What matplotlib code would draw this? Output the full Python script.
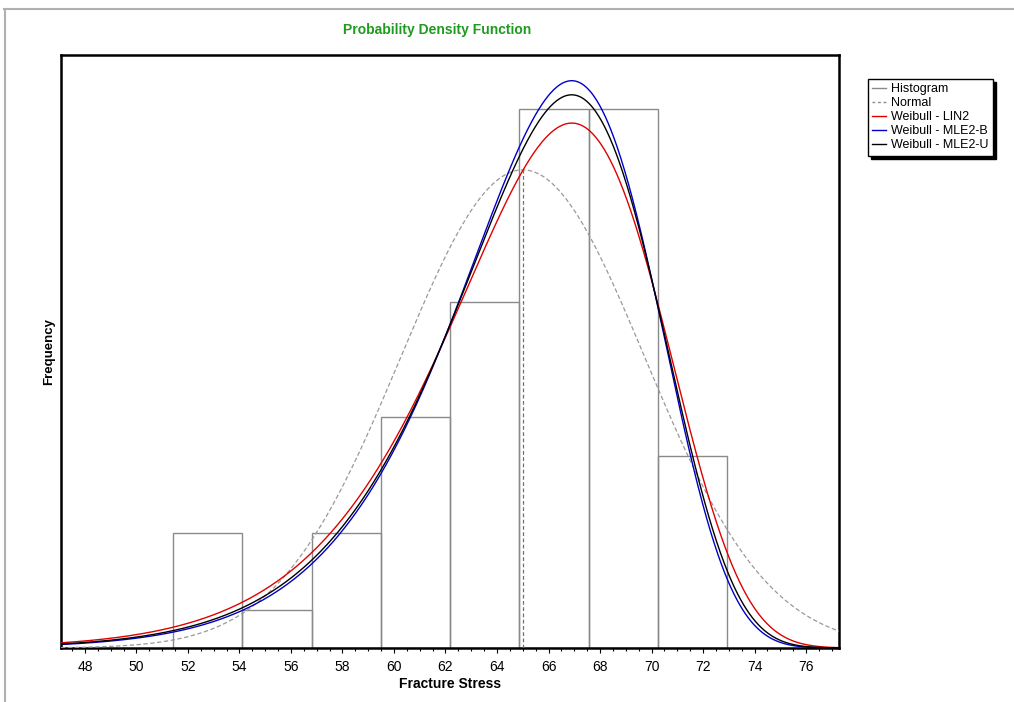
import numpy as np
import matplotlib
matplotlib.use("Agg")
import matplotlib.pyplot as plt
from matplotlib.lines import Line2D

# ---- data ----
bin_edges = [51.42, 54.11, 56.80, 59.49, 62.18, 64.87, 67.56, 70.25, 72.94]
counts = [3, 1, 3, 6, 9, 14, 14, 5]

normal_mean = 65.0
normal_sd = 4.75

weibull_names = ["Weibull - LIN2", "Weibull - MLE2-B", "Weibull - MLE2-U"]
weibull_shape = [16.8, 18.15, 17.7]
weibull_scale = [67.15, 67.11, 67.12]
weibull_colors = ["#e00000", "#0000c8", "#000000"]

x_min, x_max = 47.07, 77.28
x_ticks = [48, 50, 52, 54, 56, 58, 60, 62, 64, 66, 68, 70, 72, 74, 76]

# ---- figure ----
W, H = 1014, 702
fig = plt.figure(figsize=(W / 100, H / 100), dpi=100)
plt.rcParams['font.family'] = ['Liberation Sans', 'DejaVu Sans']

ax = fig.add_axes([61 / W, 1 - 648 / H, (839 - 61) / W, (648 - 55) / H])

n_total = sum(counts)
widths = np.diff(bin_edges)
bw = float(np.mean(widths))

ax.bar(bin_edges[:-1], counts, width=widths, align='edge', fill=False,
       edgecolor='#8a8a8a', linewidth=1.0, zorder=2)

xs = np.linspace(x_min, x_max, 800)
norm_y = n_total * bw * np.exp(-0.5 * ((xs - normal_mean) / normal_sd) ** 2) / (normal_sd * np.sqrt(2 * np.pi))
ax.plot(xs, norm_y, color='#999999', lw=0.9, linestyle=(0, (3.5, 2)), zorder=3)
norm_peak = n_total * bw / (normal_sd * np.sqrt(2 * np.pi))
ax.plot([normal_mean, normal_mean], [0, norm_peak], color='#707070', lw=0.9,
        linestyle=(0, (3, 2)), zorder=3)

for name, b, e, c in zip(weibull_names, weibull_shape, weibull_scale, weibull_colors):
    yy = n_total * bw * (b / e) * (xs / e) ** (b - 1) * np.exp(-(xs / e) ** b)
    ax.plot(xs, yy, color=c, lw=1.0, zorder=4)

ax.set_xlim(x_min, x_max)
ax.set_ylim(0, (648 - 55) / 38.48)
ax.set_xticks(x_ticks)
ax.set_xticks(np.arange(47.5, 77.3, 0.5), minor=True)
ax.set_yticks([])
ax.tick_params(axis='x', which='major', direction='out', length=3.6, width=0.8,
               labelsize=10, pad=5)
ax.tick_params(axis='x', which='minor', direction='out', length=2.0, width=0.8)
for s in ax.spines.values():
    s.set_linewidth(1.8)
    s.set_color('black')

ax.set_xlabel("Fracture Stress", fontsize=10, fontweight='bold', labelpad=2.5)
ax.set_ylabel("Frequency", fontsize=9.5, fontweight='bold', labelpad=4.5)

fig.text(437 / W, 1 - 30 / H, "Probability Density Function", color='#1e9a1e',
         fontsize=10, fontweight='bold', ha='center', va='center')

handles = [Line2D([], [], color='#8a8a8a', lw=1.0),
           Line2D([], [], color='#8a8a8a', lw=1.0, linestyle=(0, (2, 2)))]
handles += [Line2D([], [], color=c, lw=1.0) for c in weibull_colors]
labels = ["Histogram", "Normal"] + weibull_names
leg = fig.legend(handles, labels, loc='upper left',
                 bbox_to_anchor=(868 / W, 1 - 79 / H), bbox_transform=fig.transFigure,
                 fontsize=9, frameon=True, fancybox=False, shadow={'color': 'black', 'alpha': 1},
                 handlelength=1.1, handletextpad=0.4, labelspacing=0.16,
                 borderpad=0.35, borderaxespad=0)
leg.get_frame().set_edgecolor('black')
leg.get_frame().set_linewidth(1.0)

# outer frame lines of the window
fig.add_artist(Line2D([4 / W, 1], [1 - 9 / H, 1 - 9 / H], transform=fig.transFigure,
                      color='#b0b0b0', lw=1.5))
fig.add_artist(Line2D([5 / W, 5 / W], [0, 1 - 9 / H], transform=fig.transFigure,
                      color='#b0b0b0', lw=1.5))

fig.savefig("out.png", dpi=100)
